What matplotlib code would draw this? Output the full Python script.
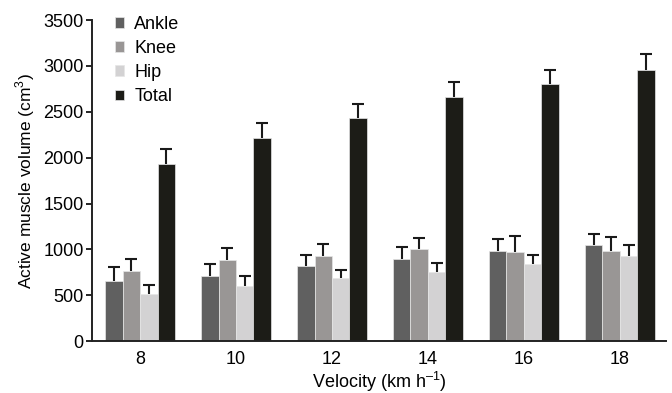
import matplotlib
matplotlib.use("Agg")
import matplotlib.pyplot as plt
import numpy as np

plt.rcParams['font.family'] = ['Liberation Sans', 'DejaVu Sans']
plt.rcParams['mathtext.fontset'] = 'custom'
plt.rcParams['mathtext.rm'] = 'Liberation Sans'

velocities = ['8', '10', '12', '14', '16', '18']
series_names = ['Ankle', 'Knee', 'Hip', 'Total']
ankle = [650, 715, 815, 890, 980, 1045]
ankle_err = [155, 130, 120, 135, 130, 125]
knee = [765, 880, 925, 1005, 970, 980]
knee_err = [135, 140, 135, 115, 180, 160]
hip = [515, 605, 685, 755, 845, 925]
hip_err = [95, 100, 90, 95, 90, 120]
total = [1935, 2215, 2430, 2665, 2800, 2955]
total_err = [155, 160, 160, 165, 160, 175]

values = [ankle, knee, hip, total]
errors = [ankle_err, knee_err, hip_err, total_err]
colors = ['#606060', '#999695', '#d3d2d3', '#1c1c17']

fig = plt.figure(figsize=(6.72, 3.93), dpi=100)
ax = fig.add_axes([0.137, 0.132, 0.854, 0.817])

x = np.arange(len(velocities))
w = 0.182
for i, (vals, errs, c, name) in enumerate(zip(values, errors, colors, series_names)):
    pos = x + (i - 1.5) * w
    ax.bar(pos, vals, width=w, color=c, edgecolor='#e6e6e6', linewidth=0.5,
           label=name, zorder=2)
    eb = ax.errorbar(pos, vals, yerr=[np.zeros(len(vals)), errs], fmt='none',
                     ecolor='#1a1a1a', elinewidth=1.5, capsize=4, capthick=1.5, zorder=1)
    caps = eb[1]
    if len(caps) == 2:
        caps[0].set_visible(False)

ax.set_xlim(-0.5, 5.48)
ax.set_ylim(0, 3500)
ax.set_yticks(np.arange(0, 3501, 500))
ax.set_xticks(x)
ax.set_xticklabels(velocities)
ax.tick_params(axis='x', length=0, labelsize=13, pad=7)
ax.tick_params(axis='y', length=4, width=1.2, labelsize=13, direction='out', pad=2)
for s in ['top', 'right']:
    ax.spines[s].set_visible(False)
for s in ['left', 'bottom']:
    ax.spines[s].set_linewidth(1.4)
    ax.spines[s].set_color('#222222')

ax.set_ylabel('Active muscle volume (cm$^3$)', fontsize=12.5, va='center')
ax.yaxis.set_label_coords(-0.117, 0.5)
ax.set_xlabel('Velocity (km h$^{\u2013 1}$)', fontsize=13, va='center')
ax.xaxis.set_label_coords(0.5, -0.128)

leg = ax.legend(loc='upper left', bbox_to_anchor=(0.028, 1.036), frameon=False,
                fontsize=13, handlelength=0.5, handleheight=0.55,
                handletextpad=0.55, labelspacing=0.4, borderaxespad=0)

fig.savefig('out.png', dpi=100)
